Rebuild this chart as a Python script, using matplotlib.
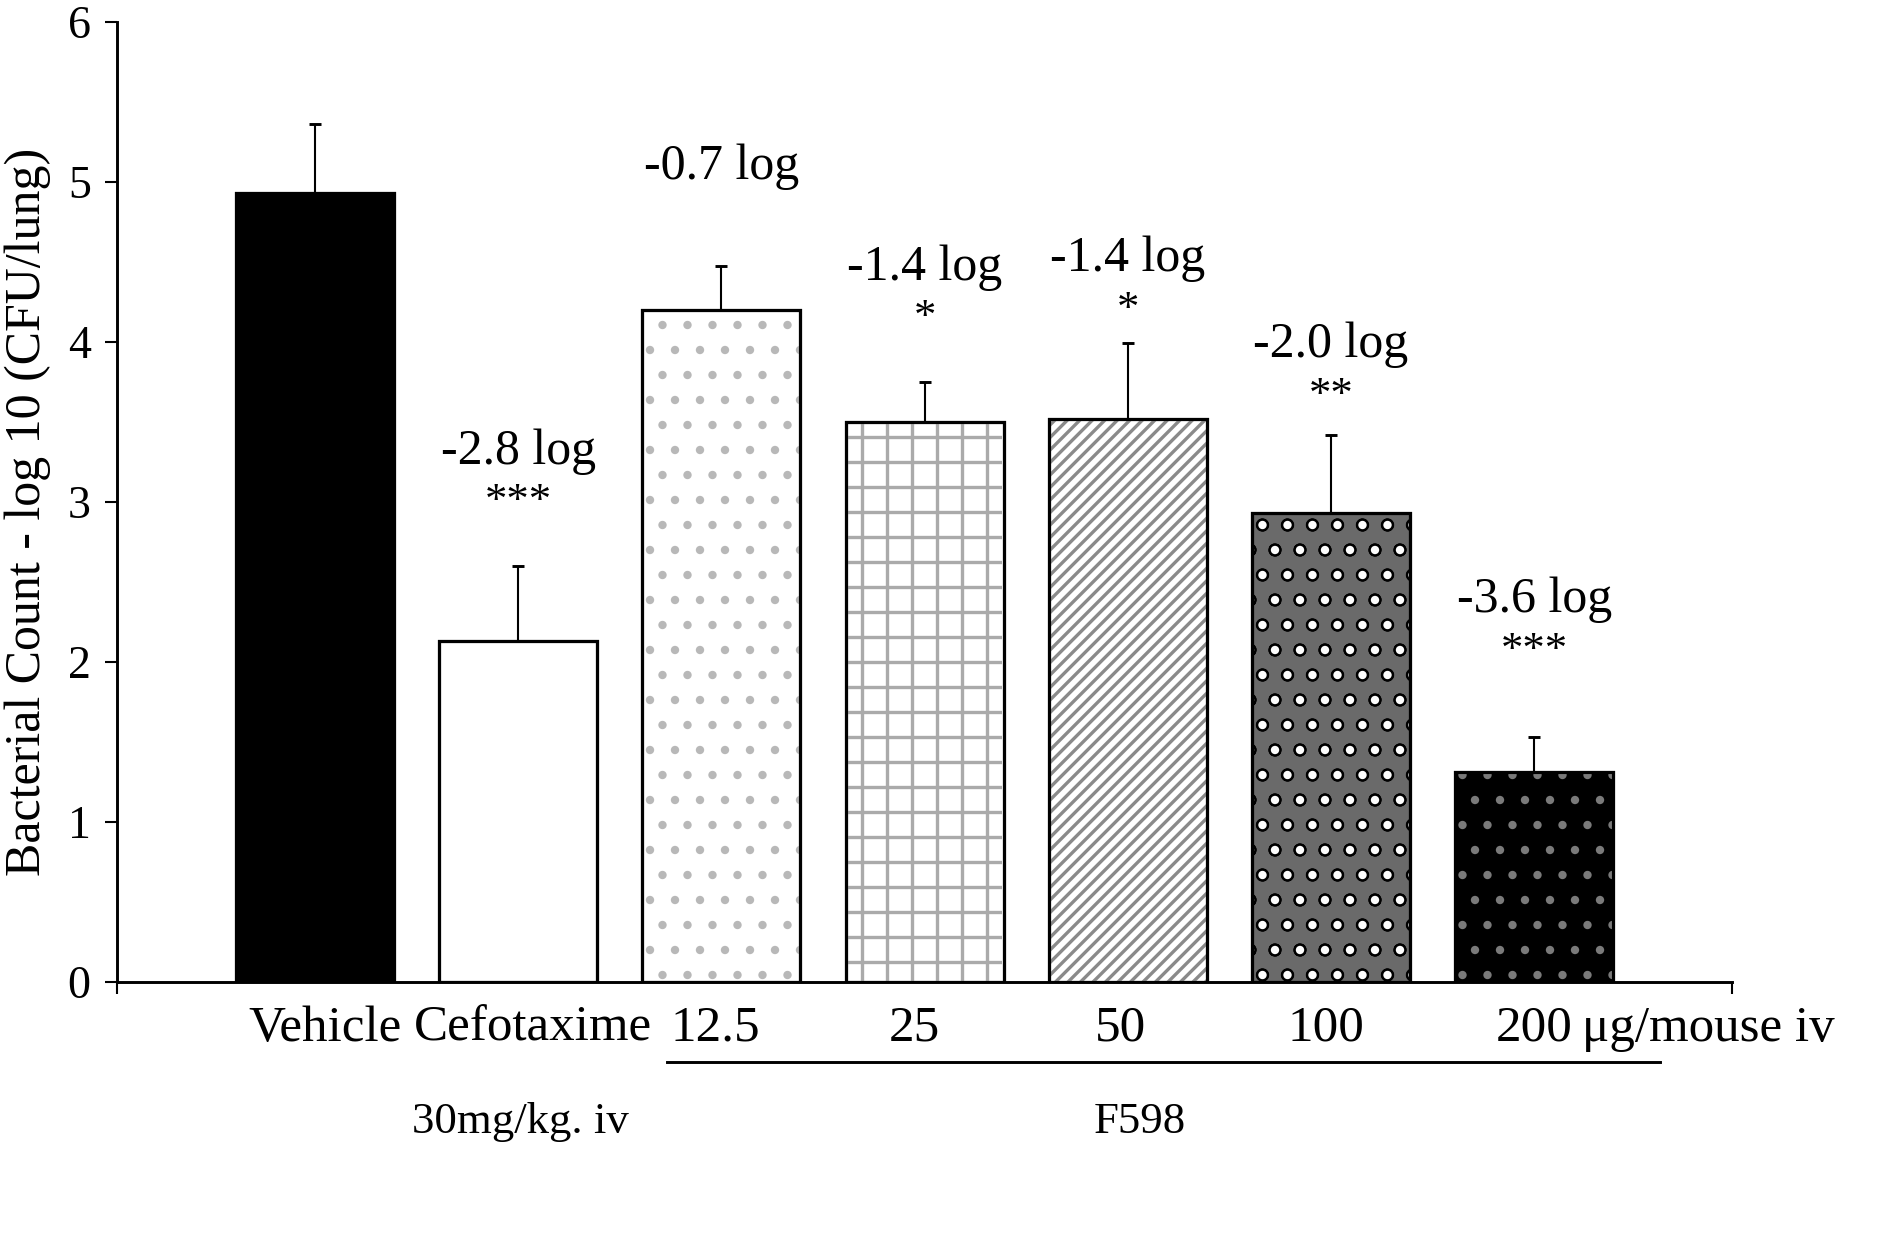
import matplotlib
matplotlib.use('Agg')
import matplotlib.pyplot as plt
from matplotlib.lines import Line2D
from matplotlib.transforms import ScaledTranslation

# data
groups = ['Vehicle', 'Cefotaxime', '12.5', '25', '50', '100', '200']
counts = [4.93, 2.13, 4.20, 3.50, 3.52, 2.93, 1.31]
errors = [0.43, 0.47, 0.27, 0.25, 0.47, 0.49, 0.22]
reductions = ['', '-2.8 log', '-0.7 log', '-1.4 log', '-1.4 log', '-2.0 log', '-3.6 log']
stars = ['', '***', '', '*', '*', '**', '***']

# look of each bar: face colour, hatch layers (hatch, colour)
faces = ['black', 'white', 'white', 'white', 'white', '#6a6a6a', 'black']
hatch_layers = [[], [], [('.', '#b8b8b8')], [('+', '#aaaaaa')], [('////', '#8a8a8a')],
                [('o', 'black'), ('.', 'white')], [('.', '#7a7a7a')]]
# small nudges of the x labels (pixels), as placed in the original
label_shift = [10, 15, -6, -10, -7, -5, 0]

plt.rcParams['font.family'] = ['Liberation Serif', 'DejaVu Serif']
plt.rcParams['hatch.linewidth'] = 1.6

# dpi 150 so the hatch cell matches the pattern spacing of the original
fig = plt.figure(figsize=(1877 / 150, 1237 / 150), dpi=150)
ax = fig.add_axes([0.0625, 0.206, 0.8603, 0.7766])

x = range(len(groups))
ax.bar(x, counts, width=0.777, color=faces, edgecolor='black', linewidth=1.5, zorder=2)
for i in x:
    for h, hc in hatch_layers[i]:
        ax.bar(i, counts[i], width=0.765, facecolor='none', edgecolor=hc,
               linewidth=0, hatch=h, zorder=3)
ax.bar(x, counts, width=0.777, facecolor='none', edgecolor='black', linewidth=1.5, zorder=4)

ax.errorbar(x, counts, yerr=[[0] * len(errors), errors], fmt='none', ecolor='black',
            elinewidth=1.0, capsize=3, capthick=1.4, zorder=1)

# annotations above bars
lab_y = [0, 3.31, 5.09, 4.46, 4.52, 3.98, 2.39]
star_y = [0, 3.00, 0, 4.15, 4.20, 3.66, 2.07]
for i in x:
    if reductions[i]:
        ax.text(i, lab_y[i], reductions[i], ha='center', va='center', fontsize=24)
    if stars[i]:
        ax.text(i, star_y[i], stars[i], ha='center', va='center', fontsize=21.5)

ax.set_xlim(-0.972, 6.973)
ax.set_ylim(0, 6)
ax.set_yticks(range(7))
ax.tick_params(axis='y', labelsize=22, length=5.8, width=1.0, direction='out', pad=7)
ax.set_xticks(list(x))
ax.set_xticklabels(groups, fontsize=24.5)
ax.tick_params(axis='x', length=0, pad=11)
for lab, dx in zip(ax.get_xticklabels(), label_shift):
    lab.set_transform(lab.get_transform() + ScaledTranslation(dx / 150, 0, fig.dpi_scale_trans))
ax.set_xticks([-0.972, 6.973], minor=True)
ax.tick_params(axis='x', which='minor', length=5.8, width=1.0, direction='out')

for s in ['top', 'right']:
    ax.spines[s].set_visible(False)
for s in ['left', 'bottom']:
    ax.spines[s].set_linewidth(1.4)

ax.set_ylabel('Bacterial Count - log 10 (CFU/lung)', fontsize=24)
ax.yaxis.set_label_coords(-0.041, 0.49)

# unit after the last dose label
ax.annotate('μg/mouse iv', xy=(6.236, 0), xycoords=('data', 'axes fraction'),
            xytext=(0, -11), textcoords='offset points', ha='left', va='top', fontsize=24.5)

# group line and labels under axis
trans = ax.get_xaxis_transform()
ax.add_line(Line2D([1.731, 6.62], [-0.0835, -0.0835], transform=trans, color='black',
                   linewidth=1.4, clip_on=False))
ax.text(1.013, -0.146, '30mg/kg. iv', transform=trans, ha='center', va='center', fontsize=21.5)
ax.text(4.058, -0.146, 'F598', transform=trans, ha='center', va='center', fontsize=21.5)

fig.savefig('out.png', dpi=150)
